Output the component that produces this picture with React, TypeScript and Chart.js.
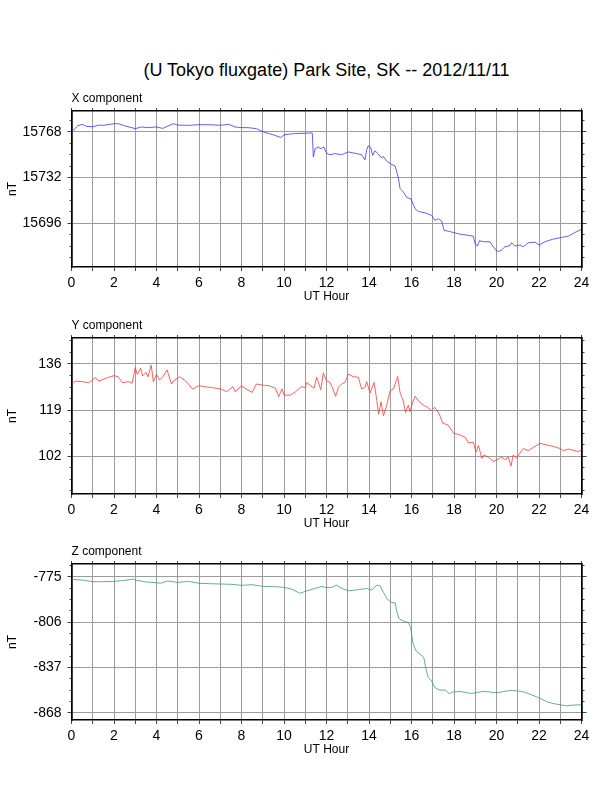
import { useEffect, useRef } from 'react'
import { Chart, registerables } from 'chart.js'

Chart.register(...registerables)

const FONT = '"Liberation Sans", Arial, Helvetica, sans-serif'
Chart.defaults.font.family = FONT

// X component (nT)
const xHours = [0, 0.3, 0.5, 0.7, 1.0, 1.3, 1.5, 2.0, 2.2, 2.5, 3.0, 3.3, 3.6, 4.0, 4.3, 4.5, 4.8, 5.0, 5.5, 6.0, 6.5, 7.0, 7.4, 7.7, 8.0, 8.3, 8.7, 9.0, 9.3, 9.5, 9.85, 10.0, 10.3, 10.5, 11.0, 11.33, 11.38, 11.46, 11.62, 11.73, 11.88, 12.0, 12.16, 12.4, 12.71, 13.03, 13.34, 13.65, 13.81, 13.89, 13.97, 14.08, 14.17, 14.28, 14.44, 14.57, 14.68, 14.83, 15.07, 15.23, 15.38, 15.46, 15.61, 15.77, 15.98, 16.17, 16.33, 16.64, 16.95, 17.1, 17.26, 17.42, 17.53, 17.73, 17.97, 18.28, 18.6, 18.91, 18.99, 19.1, 19.2, 19.38, 19.69, 19.85, 19.97, 20.09, 20.24, 20.4, 20.63, 20.71, 20.87, 21.1, 21.26, 21.5, 21.81, 22.01, 22.28, 22.67, 23.07, 23.38, 23.69, 24.0]
const xValues = [15768.0, 15772.9, 15774.0, 15772.4, 15772.1, 15773.4, 15773.2, 15774.5, 15774.5, 15772.9, 15770.6, 15771.9, 15771.4, 15771.9, 15770.8, 15772.4, 15774.5, 15773.4, 15773.2, 15773.7, 15773.7, 15773.2, 15774.0, 15771.9, 15771.4, 15771.4, 15770.6, 15768.3, 15766.7, 15765.7, 15763.6, 15765.7, 15766.4, 15766.7, 15767.0, 15767.2, 15748.3, 15754.8, 15756.1, 15754.8, 15756.1, 15751.2, 15750.1, 15750.9, 15750.1, 15752.2, 15751.2, 15750.1, 15746.0, 15754.0, 15757.1, 15755.8, 15749.6, 15753.2, 15750.6, 15747.8, 15748.6, 15745.0, 15742.4, 15741.1, 15732.0, 15723.5, 15720.9, 15716.5, 15715.2, 15707.4, 15705.3, 15704.3, 15702.2, 15698.3, 15699.6, 15697.8, 15690.6, 15689.8, 15688.8, 15687.5, 15686.7, 15685.9, 15680.2, 15678.1, 15682.3, 15681.5, 15681.5, 15677.6, 15675.0, 15673.7, 15675.0, 15677.6, 15678.4, 15680.7, 15678.1, 15678.9, 15677.6, 15680.7, 15681.2, 15678.9, 15681.5, 15683.6, 15684.9, 15685.9, 15688.8, 15691.3]

// Y component (nT)
const yHours = [0, 0.2, 0.5, 0.8, 1.0, 1.1, 1.3, 1.6, 2.0, 2.2, 2.4, 2.7, 2.85, 3.0, 3.1, 3.25, 3.35, 3.5, 3.6, 3.75, 3.85, 4.0, 4.15, 4.3, 4.5, 4.7, 4.85, 5.1, 5.4, 5.7, 6.0, 6.3, 6.6, 7.0, 7.3, 7.6, 7.7, 8.0, 8.3, 8.5, 8.7, 9.0, 9.3, 9.6, 9.75, 9.9, 10.0, 10.3, 10.55, 10.8, 11.0, 11.07, 11.22, 11.41, 11.54, 11.73, 11.85, 12.0, 12.16, 12.27, 12.43, 12.56, 12.71, 12.87, 13.03, 13.26, 13.5, 13.65, 13.81, 13.89, 14.05, 14.24, 14.37, 14.45, 14.57, 14.68, 14.83, 14.99, 15.15, 15.35, 15.46, 15.61, 15.72, 15.85, 15.93, 16.06, 16.17, 16.37, 16.56, 16.76, 16.94, 17.1, 17.31, 17.47, 17.73, 17.97, 18.28, 18.52, 18.68, 18.91, 19.04, 19.15, 19.31, 19.41, 19.62, 19.86, 20.09, 20.24, 20.4, 20.56, 20.68, 20.79, 20.95, 21.1, 21.26, 21.5, 21.73, 22.05, 22.36, 22.67, 22.99, 23.15, 23.38, 23.69, 23.85, 24.0]
const yValues = [128.9, 129.7, 129.5, 129.1, 130.1, 131.0, 129.7, 130.7, 131.7, 131.3, 129.1, 129.5, 128.9, 134.6, 132.2, 134.4, 131.6, 132.9, 131.3, 135.6, 129.5, 132.2, 130.1, 131.3, 133.8, 128.6, 130.1, 131.3, 129.5, 126.8, 128.0, 127.6, 127.3, 126.8, 125.8, 127.6, 125.8, 127.9, 126.4, 125.5, 128.6, 128.2, 128.0, 127.0, 123.9, 126.8, 124.5, 124.5, 125.8, 127.6, 127.3, 129.2, 128.2, 127.0, 131.1, 126.5, 132.7, 129.8, 129.2, 127.4, 124.1, 127.4, 128.6, 129.2, 132.3, 131.3, 131.1, 126.8, 127.4, 129.5, 125.3, 129.2, 122.4, 117.5, 122.0, 116.9, 120.6, 126.1, 126.8, 131.4, 125.5, 122.4, 118.1, 120.8, 118.4, 122.0, 124.1, 122.0, 120.8, 120.0, 118.8, 120.0, 117.5, 114.2, 113.4, 110.5, 109.8, 109.0, 106.9, 107.1, 103.4, 105.9, 101.2, 102.4, 101.6, 100.0, 100.9, 101.6, 100.7, 101.6, 98.3, 102.4, 101.2, 103.1, 104.8, 104.0, 105.2, 106.7, 106.1, 105.6, 104.8, 104.0, 104.6, 104.0, 103.6, 104.3]

// Z component (nT)
const zHours = [0, 0.5, 1.0, 1.5, 2.0, 2.5, 2.9, 3.0, 3.5, 4.0, 4.2, 4.5, 5.0, 5.5, 6.0, 6.5, 7.0, 7.5, 8.0, 8.5, 9.0, 9.5, 10.0, 10.4, 10.75, 11.07, 11.46, 11.77, 12.0, 12.24, 12.47, 12.71, 13.03, 13.42, 13.89, 14.13, 14.36, 14.52, 14.68, 14.86, 15.07, 15.23, 15.3, 15.41, 15.61, 15.85, 15.96, 16.06, 16.21, 16.4, 16.58, 16.68, 16.79, 16.94, 17.1, 17.34, 17.58, 17.78, 17.97, 18.28, 18.6, 18.83, 19.07, 19.31, 19.54, 19.86, 20.09, 20.32, 20.63, 20.95, 21.26, 21.57, 21.88, 22.12, 22.36, 22.67, 22.99, 23.3, 23.61, 24.0]
const zValues = [-776.6, -777.1, -778.2, -778.2, -778.0, -777.3, -776.4, -777.1, -778.4, -778.9, -779.3, -777.7, -778.7, -778.0, -779.3, -779.6, -779.8, -780.0, -780.7, -780.3, -781.4, -781.6, -782.1, -783.5, -786.2, -784.5, -782.9, -781.5, -782.2, -782.2, -780.6, -782.7, -784.5, -783.8, -782.9, -784.0, -780.6, -781.1, -785.6, -790.2, -792.5, -792.7, -798.2, -803.5, -805.1, -806.2, -809.6, -819.9, -825.6, -827.9, -830.2, -838.2, -843.9, -846.2, -850.8, -852.6, -852.4, -854.9, -853.7, -853.5, -854.2, -854.9, -854.2, -853.5, -853.5, -854.2, -854.2, -853.5, -852.8, -853.0, -853.7, -855.3, -857.1, -858.7, -860.5, -861.7, -862.6, -863.3, -862.8, -862.6]

const GRID = '#9c9c9c'
const TICK = '#444'
const BORDER = { color: '#000', width: 1.5 }

type PanelProps = {
  label: string
  hours: number[]
  values: number[]
  color: string
  min: number
  max: number
  step: number
  minor: number
  top: number
}

function Panel({ label, hours, values, color, min, max, step, minor, top }: PanelProps) {
  const canvasRef = useRef<HTMLCanvasElement>(null)

  useEffect(() => {
    if (!canvasRef.current) return
    const chart = new Chart(canvasRef.current, {
      type: 'line',
      data: {
        datasets: [{
          data: hours.map((h, i) => ({ x: h, y: values[i] })),
          borderColor: color,
          borderWidth: 0.8,
          pointRadius: 0,
          tension: 0,
          xAxisID: 'x',
          yAxisID: 'y',
        }],
      },
      options: {
        responsive: false,
        animation: false,
        layout: { padding: { top: 8, right: 30.5, bottom: 0, left: 0 } },
        plugins: { legend: { display: false }, tooltip: { enabled: false } },
        scales: {
          x: {
            type: 'linear', position: 'bottom', min: 0, max: 24,
            ticks: {
              stepSize: 1, autoSkip: false, maxRotation: 0, padding: 4, color: '#000',
              font: { size: 14 },
              callback: (v) => (Number(v) % 2 === 0 ? String(v) : ''),
            },
            grid: { color: GRID, tickLength: 4, tickColor: TICK },
            border: BORDER,
            title: { display: true, text: 'UT Hour', color: '#000', font: { size: 12 }, padding: { top: 0, bottom: 3 } },
            afterFit: (s) => { s.height = 40 },
          },
          xt: {
            type: 'linear', position: 'top', min: 0, max: 24,
            ticks: { stepSize: 1, display: false },
            grid: { drawOnChartArea: false, tickLength: 3, tickColor: TICK },
            border: BORDER,
            title: { display: true, text: label, align: 'start', color: '#000', font: { size: 12 }, padding: { top: 2.4, bottom: 0 } },
            afterFit: (s) => { s.height = 22 },
          },
          y: {
            type: 'linear', position: 'left', weight: 1, min, max,
            ticks: { stepSize: step, includeBounds: false, autoSkip: false, padding: 6, color: '#000', font: { size: 14 }, callback: (v) => String(v) },
            grid: { color: GRID, tickLength: 4, tickColor: TICK },
            border: BORDER,
            title: { display: true, text: 'nT', color: '#000', font: { size: 12 }, padding: { top: 5.5, bottom: 0 } },
            afterFit: (s) => { s.width = 71.5 },
          },
          yl: {
            type: 'linear', position: 'left', weight: 0, min, max,
            ticks: { stepSize: minor, display: false, includeBounds: false },
            grid: { drawOnChartArea: false, tickLength: 2, tickColor: TICK },
            border: BORDER,
            afterFit: (s) => { s.width = 0 },
          },
          yR: {
            type: 'linear', position: 'right', weight: 1, min, max,
            ticks: { stepSize: step, display: false, includeBounds: false },
            grid: { drawOnChartArea: false, tickLength: 5, tickColor: TICK },
            border: BORDER,
            afterFit: (s) => { s.width = 0 },
          },
          yr: {
            type: 'linear', position: 'right', weight: 0, min, max,
            ticks: { stepSize: minor, display: false, includeBounds: false },
            grid: { drawOnChartArea: false, tickLength: 3, tickColor: TICK },
            border: BORDER,
            afterFit: (s) => { s.width = 0 },
          },
        },
      },
    })
    return () => chart.destroy()
  }, [label, hours, values, color, min, max, step, minor])

  return (
    <canvas
      ref={canvasRef}
      width={612}
      height={226}
      style={{ position: 'absolute', left: 0, top: top - 30, width: 612, height: 226 }}
    />
  )
}

export default function App() {
  return (
    <div style={{ position: 'absolute', left: 0, top: 0, width: 612, height: 792, background: '#fff', fontFamily: FONT }}>
      <div style={{ position: 'absolute', left: 71.5, top: 61, width: 510, textAlign: 'center', fontSize: 18, lineHeight: '18px', color: '#000' }}>
        (U Tokyo fluxgate) Park Site, SK -- 2012/11/11
      </div>
      <Panel label="X component" hours={xHours} values={xValues} color="#3838ff"
        min={15661.6} max={15784.5} step={36} minor={9} top={111} />
      <Panel label="Y component" hours={yHours} values={yValues} color="#ff3a3a"
        min={88} max={145.6} step={17} minor={4.25} top={338} />
      <Panel label="Z component" hours={zHours} values={zValues} color="#3f9a74"
        min={-873} max={-766.1} step={31} minor={7.75} top={564} />
    </div>
  )
}
